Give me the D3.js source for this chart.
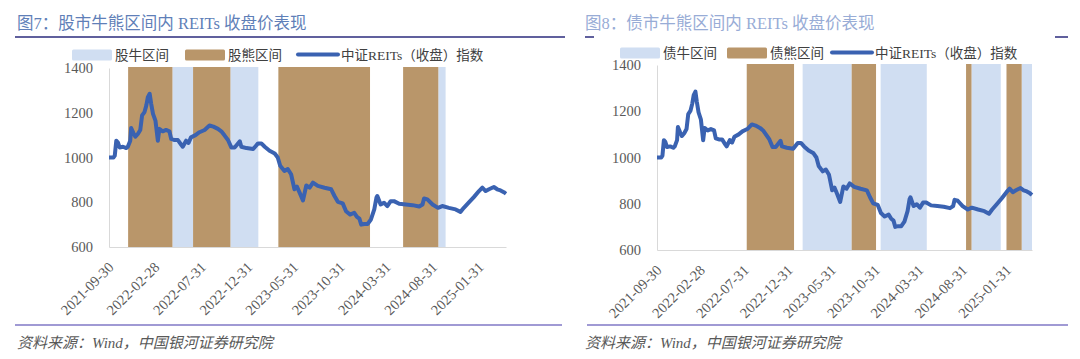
<!DOCTYPE html>
<html>
<head>
<meta charset="utf-8">
<script src="https://d3js.org/d3.v7.min.js"></script>
<title>REITs bull / bear panels</title>
<style>
body { margin: 0; background: #fff; }
svg { display: block; }
text { font-family: "Liberation Serif", "Noto Sans CJK SC", serif; }
</style>
</head>
<body>
<svg width="1080" height="359"></svg>
<script>

// 中证REITs（收盘）指数
const closeDates = [
  "2021-09-30","2021-10-15","2021-10-19","2021-10-24","2021-10-29","2021-11-04","2021-11-15","2021-11-26","2021-12-01","2021-12-09",
  "2021-12-12","2021-12-20","2021-12-26","2022-01-03","2022-01-11","2022-01-17","2022-01-25","2022-01-31","2022-02-05","2022-02-11",
  "2022-02-16","2022-02-22","2022-03-02","2022-03-10","2022-03-15","2022-03-26","2022-04-06","2022-04-17","2022-04-23","2022-05-04",
  "2022-05-15","2022-05-26","2022-05-31","2022-06-11","2022-06-19","2022-06-27","2022-07-12","2022-07-25","2022-08-11","2022-08-27",
  "2022-09-09","2022-09-24","2022-10-05","2022-10-16","2022-10-27","2022-11-07","2022-11-18","2022-12-05","2022-12-10","2022-12-27",
  "2023-01-18","2023-02-03","2023-02-14","2023-02-25","2023-03-13","2023-03-30","2023-04-09","2023-04-17","2023-05-01","2023-05-12",
  "2023-05-23","2023-06-03","2023-06-11","2023-06-20","2023-07-01","2023-07-12","2023-07-23","2023-08-03","2023-08-19","2023-09-10",
  "2023-10-02","2023-10-13","2023-10-24","2023-11-09","2023-11-20","2023-12-03","2023-12-17","2023-12-26","2024-01-03","2024-01-09",
  "2024-01-19","2024-01-30","2024-02-10","2024-02-21","2024-02-28","2024-03-02","2024-03-13","2024-03-24","2024-04-04","2024-04-15",
  "2024-04-26","2024-05-13","2024-06-04","2024-06-26","2024-07-18","2024-07-29","2024-08-03","2024-08-14","2024-08-31","2024-09-18",
  "2024-10-02","2024-10-24","2024-11-15","2024-12-01","2024-12-12","2024-12-28","2025-01-14","2025-01-31","2025-02-11","2025-02-22",
  "2025-03-05","2025-03-21","2025-04-01","2025-04-12","2025-04-23","2025-04-30"
];
const closeValues = [
  1000,1000,1008,1075,1068,1045,1048,1042,1048,1075,
  1132,1108,1093,1105,1123,1188,1203,1233,1270,1285,
  1240,1195,1165,1075,1128,1117,1123,1117,1083,1078,
  1078,1057,1048,1075,1065,1090,1100,1113,1123,1143,
  1138,1128,1117,1098,1078,1045,1045,1072,1048,1042,
  1038,1063,1063,1048,1030,1018,1000,963,940,948,
  925,858,870,843,808,875,865,888,873,865,
  858,828,802,795,760,745,753,735,727,700,
  703,703,723,768,820,828,790,798,783,805,
  805,793,790,787,781,790,817,813,790,775,
  783,775,768,757,775,798,823,850,865,850,
  858,868,858,853,845,838
];

const yTicks = [600, 800, 1000, 1200, 1400];
const xTickLabels = ["2021-09-30","2022-02-28","2022-07-31","2022-12-31","2023-05-31",
                     "2023-10-31","2024-03-31","2024-08-31","2025-01-31"];

// shaded periods [start, end]
const stockBull = [["2022-04-27","2022-07-04"],["2022-11-04","2023-02-04"],["2024-09-19","2024-10-13"]];
const stockBear = [["2021-12-02","2022-04-27"],["2022-07-04","2022-11-04"],["2023-04-11","2024-02-07"],["2024-05-26","2024-09-19"]];
const bondBull  = [["2023-02-20","2023-08-10"],["2023-11-19","2024-04-28"],["2024-10-01","2025-01-11"],["2025-03-25","2025-04-30"]];
const bondBear  = [["2022-08-09","2023-01-21"],["2023-08-10","2023-11-03"],["2024-09-12","2024-10-01"],["2025-01-31","2025-03-25"]];

const parse = d3.timeParse("%Y-%m-%d");
const series = closeDates.map((d, i) => ({date: parse(d), value: closeValues[i]}));

const bullColor = "#d0def2";
const bearColor = "#b9966a";
const lineColor = "#3a62b1";

const svg = d3.select("svg");

function drawPanel(p) {
  const g = svg.append("g");

  const x = d3.scaleTime()
    .domain([parse("2021-09-30"), parse("2025-04-30")])
    .range([p.left, p.right]);
  const y = d3.scaleLinear().domain([600, 1400]).range([p.bottom, p.top]);

  // title
  g.append("text")
    .attr("x", p.titleX).attr("y", 29)
    .attr("font-size", 16.5)
    .attr("fill", p.titleColor)
    .text(p.title);

  // bands
  g.selectAll(".bull").data(p.bull).enter().append("rect")
    .attr("x", d => x(parse(d[0])))
    .attr("width", d => x(parse(d[1])) - x(parse(d[0])))
    .attr("y", p.top - 1).attr("height", p.bottom - p.top + 2)
    .attr("fill", bullColor);
  g.selectAll(".bear").data(p.bear).enter().append("rect")
    .attr("x", d => x(parse(d[0])))
    .attr("width", d => x(parse(d[1])) - x(parse(d[0])))
    .attr("y", p.top - 1).attr("height", p.bottom - p.top + 2)
    .attr("fill", bearColor);

  // axes
  const yAxis = g.append("g")
    .attr("transform", "translate(" + p.left + ",0)")
    .call(d3.axisLeft(y).tickValues(yTicks).tickSize(0).tickPadding(16).tickFormat(d3.format("d")));
  yAxis.select(".domain").attr("stroke", "#d9d9d9");
  yAxis.selectAll("text")
    .attr("font-family", "Liberation Serif, serif")
    .attr("font-size", 14.5).attr("fill", "#595959");

  const xAxis = g.append("g")
    .attr("transform", "translate(0," + p.bottom + ")")
    .call(d3.axisBottom(x).tickValues(xTickLabels.map(parse)).tickSize(0)
      .tickFormat(d3.timeFormat("%Y-%m-%d")));
  xAxis.select(".domain").attr("stroke", "#d9d9d9");
  xAxis.selectAll("text")
    .attr("font-family", "Liberation Serif, serif")
    .attr("font-size", 14.5).attr("fill", "#595959")
    .attr("text-anchor", "end")
    .attr("dy", 0)
    .attr("transform", "translate(3,19) rotate(-45)");

  // line
  g.append("path")
    .datum(series)
    .attr("fill", "none")
    .attr("stroke", lineColor)
    .attr("stroke-width", 4)
    .attr("stroke-linejoin", "round")
    .attr("d", d3.line().x(d => x(d.date)).y(d => y(d.value)));

  // legend
  const ly = p.legendY;
  const lg = g.append("g").attr("font-size", 13.5).attr("fill", "#404040");
  lg.append("rect").attr("x", p.legendX[0]).attr("y", ly - 5).attr("width", 40).attr("height", 11)
    .attr("rx", 1.5).attr("fill", bullColor);
  lg.append("text").attr("x", p.legendX[0] + 43).attr("y", ly + 5.5).text(p.bullLabel);
  lg.append("rect").attr("x", p.legendX[1]).attr("y", ly - 5).attr("width", 40).attr("height", 11)
    .attr("rx", 1.5).attr("fill", bearColor);
  lg.append("text").attr("x", p.legendX[1] + 43).attr("y", ly + 5.5).text(p.bearLabel);
  lg.append("line").attr("x1", p.legendX[2]).attr("x2", p.legendX[2] + 40)
    .attr("y1", ly).attr("y2", ly)
    .attr("stroke", lineColor).attr("stroke-width", 4).attr("stroke-linecap", "round");
  lg.append("text").attr("x", p.legendX[2] + 43).attr("y", ly + 5.5).text("中证REITs（收盘）指数");

  // source
  g.append("text")
    .attr("x", p.titleX).attr("y", 348)
    .attr("font-size", 15).attr("font-style", "italic").attr("fill", "#595959")
    .text("资料来源：Wind，中国银河证券研究院");
}

drawPanel({
  left: 109, right: 506, top: 68, bottom: 247,
  titleX: 17, titleColor: "#5f7fb8",
  title: "图7：股市牛熊区间内 REITs 收盘价表现",
  bull: stockBull, bear: stockBear,
  bullLabel: "股牛区间", bearLabel: "股熊区间",
  legendX: [72, 185, 298], legendY: 54.5
});

drawPanel({
  left: 657, right: 1032, top: 65, bottom: 250,
  titleX: 585, titleColor: "#98acd6",
  title: "图8：债市牛熊区间内 REITs 收盘价表现",
  bull: bondBull, bear: bondBear,
  bullLabel: "债牛区间", bearLabel: "债熊区间",
  legendX: [620, 727, 832], legendY: 52.5
});

// separator rules
const rules = [
  {x1: 15, x2: 565, y: 37, c: "#2b2b7c"},
  {x1: 585, x2: 594, y: 37, c: "#2b2b7c"},
  {x1: 1055, x2: 1068, y: 37, c: "#2b2b7c"},
  {x1: 15, x2: 562, y: 325, c: "#8078c6"},
  {x1: 587, x2: 1068, y: 325, c: "#8078c6"}
];
svg.selectAll(".rule").data(rules).enter().append("line")
  .attr("x1", d => d.x1).attr("x2", d => d.x2)
  .attr("y1", d => d.y).attr("y2", d => d.y)
  .attr("stroke", d => d.c).attr("stroke-width", 1.5);

</script>
</body>
</html>
